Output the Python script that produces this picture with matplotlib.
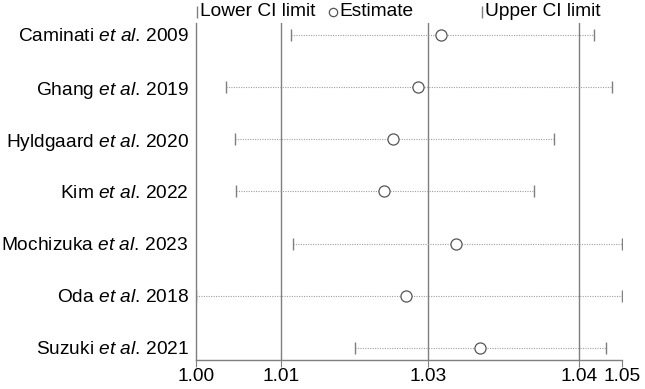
import matplotlib
matplotlib.use("Agg")
import matplotlib.pyplot as plt
from matplotlib.ticker import FormatStrFormatter

plt.rcParams['font.family'] = 'Liberation Sans'
plt.rcParams['mathtext.fontset'] = 'custom'
plt.rcParams['mathtext.rm'] = 'Liberation Sans'
plt.rcParams['mathtext.it'] = 'Liberation Sans:italic'

# studies omitted one at a time (top to bottom)
authors = ["Caminati", "Ghang", "Hyldgaard", "Kim", "Mochizuka", "Oda", "Suzuki"]
years = ["2009", "2019", "2020", "2022", "2023", "2018", "2021"]
estimate = [1.0270, 1.0241, 1.0210, 1.0199, 1.0289, 1.0227, 1.0319]
lower_ci = [1.0083, 1.0002, 1.0013, 1.0014, 1.0086, 0.9964, 1.0163]
upper_ci = [1.0461, 1.0484, 1.0412, 1.0387, 1.0496, 1.0496, 1.0476]

# pooled result (lower, estimate, upper)
pooled = [1.0070, 1.0254, 1.0443]

legend_labels = ["Lower CI limit", "Estimate", "Upper CI limit"]

grey = "#7f7f7f"
fs = 13.8
fig = plt.figure(figsize=(6.45, 3.89), dpi=100)
ax = fig.add_axes([0.3034, 0.0746, 0.9639 - 0.3034, 0.9409 - 0.0746])

n = len(authors)
ypos = list(range(n, 0, -1))

for v in pooled:
    ax.axvline(v, color=grey, lw=1.0, zorder=1)

for y, lo, est, hi in zip(ypos, lower_ci, estimate, upper_ci):
    ax.plot([lo, hi], [y, y], color="#a0a0a0", lw=0.8, ls=(0, (1, 1.2)), zorder=2)
    ax.plot([lo], [y], marker="|", ms=8, mew=1.0, color=grey, zorder=3, ls="none")
    ax.plot([hi], [y], marker="|", ms=8, mew=1.0, color=grey, zorder=3, ls="none")
    ax.plot([est], [y], marker="o", ms=8, mfc="white", mec="#555555", mew=0.9,
            zorder=4, ls="none")

labels = [a + r" $\mathit{et\ al}$. " + yr for a, yr in zip(authors, years)]
ax.set_yticks(ypos)
ax.set_yticklabels(labels, fontsize=fs)
ax.tick_params(axis="y", length=0, pad=5)

xmin = min(lower_ci)
xmax = max(upper_ci)
ax.set_xlim(xmin, xmax)
ax.set_ylim(0.77, n + 0.23)
ax.set_xticks([xmin] + pooled + [xmax])
ax.xaxis.set_major_formatter(FormatStrFormatter("%.2f"))
ax.tick_params(axis="x", labelsize=fs, length=5, color=grey, pad=1)

for s in ["top", "right"]:
    ax.spines[s].set_visible(False)
for s in ["left", "bottom"]:
    ax.spines[s].set_color(grey)
    ax.spines[s].set_linewidth(1.0)

# legend above the plot, drawn by hand so the entries sit where they should
leg_y = 1.033
leg_marks = [("|", 0.004, 8), ("o", 0.322, 6), ("|", 0.672, 8)]
leg_text_x = [0.011, 0.338, 0.680]
for (m, mx, ms), tx, lab in zip(leg_marks, leg_text_x, legend_labels):
    if m == "o":
        ax.plot([mx], [leg_y], marker=m, ms=ms, mfc="white", mec="#555555", mew=0.9,
                transform=ax.transAxes, clip_on=False, ls="none")
    else:
        ax.plot([mx], [leg_y], marker=m, ms=ms, mew=1.0, color=grey,
                transform=ax.transAxes, clip_on=False, ls="none")
    ax.text(tx, leg_y, lab, transform=ax.transAxes, fontsize=fs,
            va="center", ha="left")

fig.savefig("out.png", dpi=100)
